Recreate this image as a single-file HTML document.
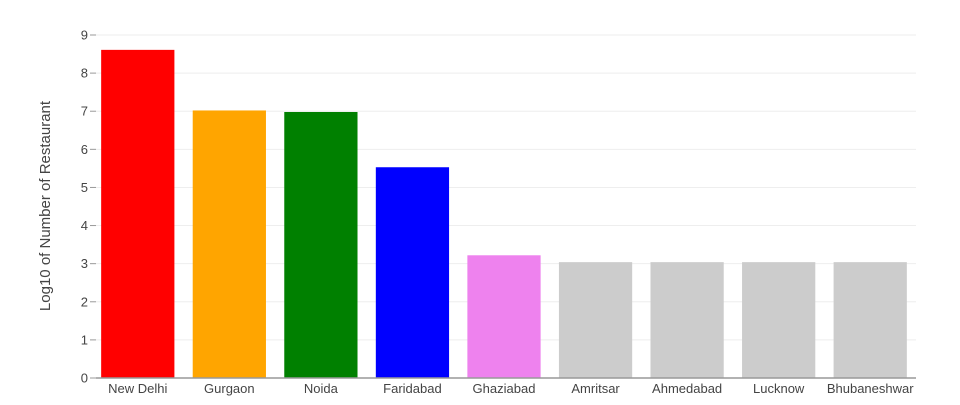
<!DOCTYPE html>
<html><head><meta charset="utf-8"><style>
body{margin:0;background:#fff;}
svg text{font-family:"Liberation Sans",sans-serif;fill:#444;}
</style></head><body>
<svg id="chart" width="960" height="400"></svg>
<script>
const categories=["New Delhi","Gurgaon","Noida","Faridabad","Ghaziabad","Amritsar","Ahmedabad","Lucknow","Bhubaneshwar"];
const values=[8.61,7.02,6.98,5.53,3.22,3.04,3.04,3.04,3.04];
const colors=["#ff0000","#ffa500","#008000","#0000ff","#ee82ee","#cccccc","#cccccc","#cccccc","#cccccc"];
const yTicks=[0,1,2,3,4,5,6,7,8,9];
const svg=document.getElementById('chart');
const NS='http://www.w3.org/2000/svg';
const x0=92,x1=916,yb=378,yt=35,yMax=9,axX=96;
const y=v=>yb-(v/yMax)*(yb-yt);
const band=(x1-x0)/categories.length;
const bw=band*0.8;
function mk(t,a){const e=document.createElementNS(NS,t);for(const k in a)e.setAttribute(k,a[k]);svg.appendChild(e);return e;}
yTicks.forEach(t=>{
  if(t>0){const g=mk('line',{x1:axX,x2:x1,y1:y(t),y2:y(t),stroke:'#eeeeee','stroke-width':1});
  
  }
  const tk=mk('line',{x1:axX-6,x2:axX,y1:y(t),y2:y(t),stroke:'#999','stroke-width':1});
  
  
  const l=mk('text',{x:axX-8,y:y(t)+4.5,'text-anchor':'end','font-size':13});
  l.textContent=t;
  
  
});
categories.forEach((c,i)=>{
  const cx=x0+band*(i+0.5);
  const r=mk('rect',{x:cx-bw/2,y:y(values[i]),width:bw,height:yb-y(values[i]),fill:colors[i]});
  
  
  const l=mk('text',{x:cx,y:yb+15,'text-anchor':'middle','font-size':13});
  l.textContent=c;
  
  
});
const ax=mk('line',{x1:axX,x2:x1,y1:yb,y2:yb,stroke:'#999','stroke-width':1.5});


const yt2=mk('text',{x:0,y:0,'text-anchor':'middle','font-size':15,transform:'translate(50,206) rotate(-90)'});
yt2.textContent='Log10 of Number of Restaurant';


</script>
</body></html>
